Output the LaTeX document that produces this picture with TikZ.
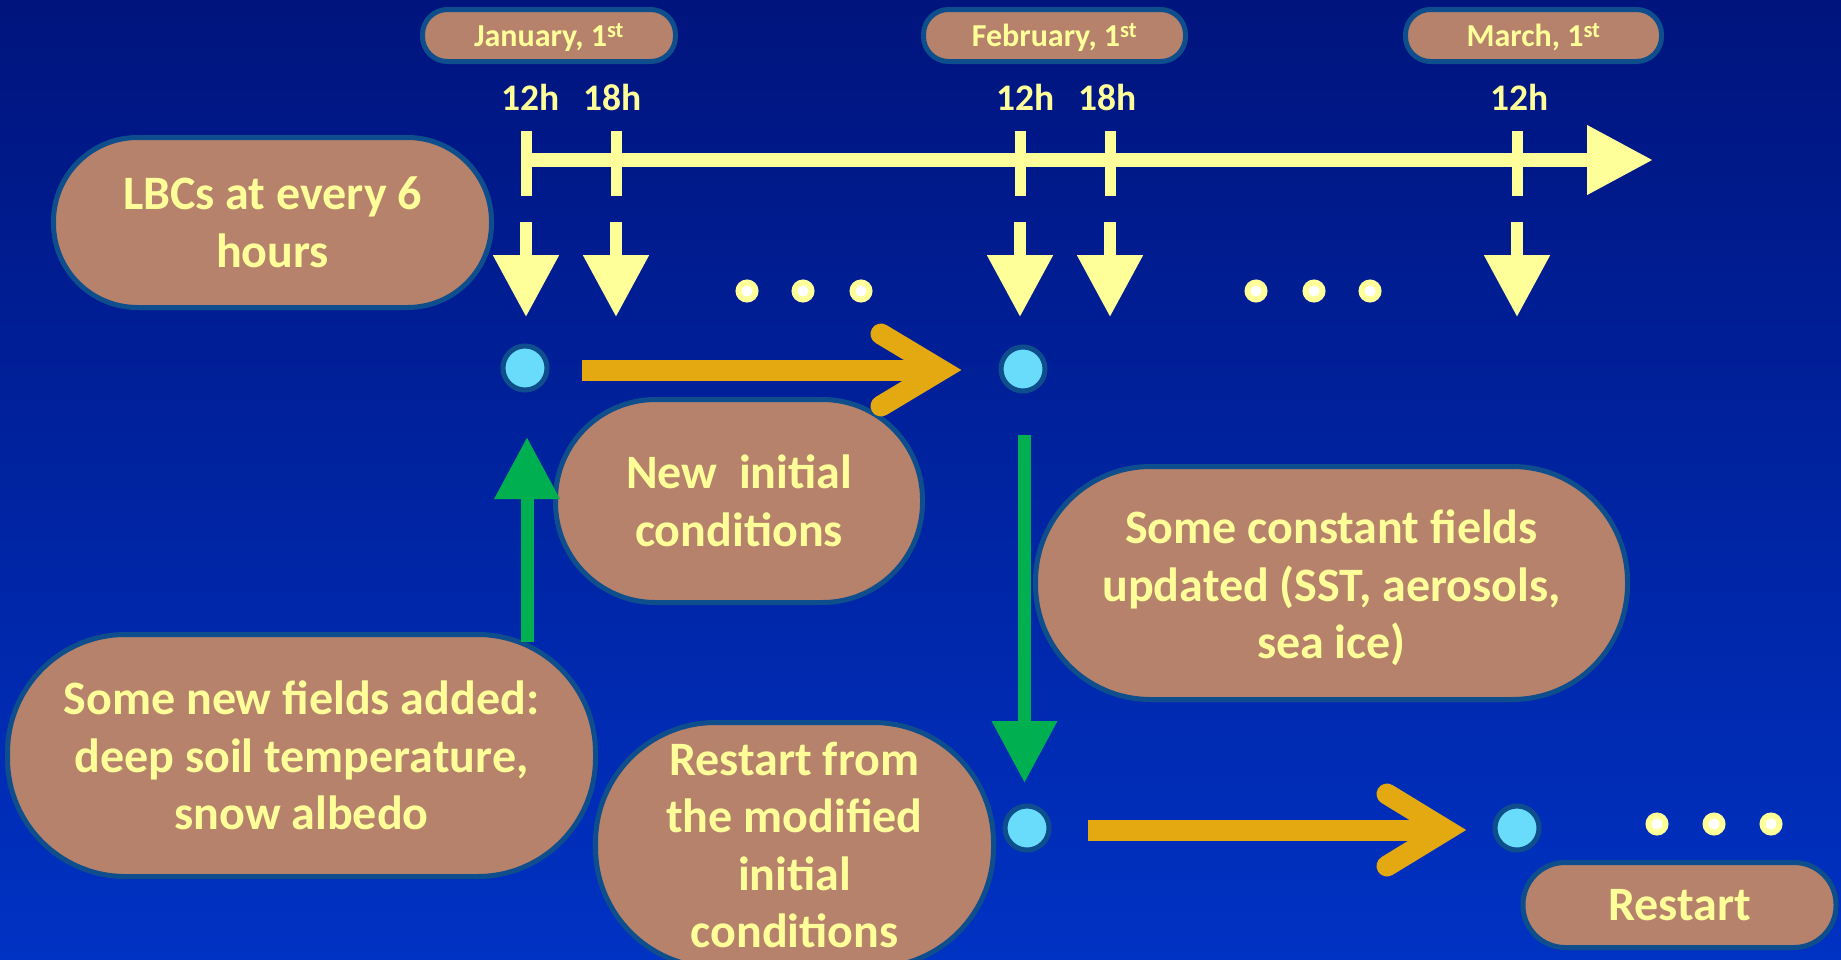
\documentclass[tikz,border=0pt]{standalone}
\usepackage{fontspec}
\setmainfont{Carlito}
\usetikzlibrary{arrows.meta}
\definecolor{bgtop}{RGB}{0,20,125}
\definecolor{bgbot}{RGB}{0,50,195}
\definecolor{pillfill}{RGB}{183,130,107}
\definecolor{pillline}{RGB}{14,78,140}
\definecolor{ltyellow}{RGB}{255,255,153}
\definecolor{cyanfill}{RGB}{104,220,250}
\definecolor{arrorange}{RGB}{228,168,16}
\definecolor{arrgreen}{RGB}{0,176,80}
\newcommand{\lowtext}[1]{\raisebox{-2pt}[\height][\depth]{#1}}
\begin{document}
\begin{tikzpicture}[x=1pt,y=-1pt,
  pilltext/.style={text=ltyellow, align=center, inner sep=0pt, font=\fontsize{48}{57.5}\selectfont\bfseries},
  pill/.style={pilltext, draw=pillline, fill=pillfill, line width=5pt},
  datepill/.style={pill, font=\fontsize{32}{36}\selectfont\bfseries, minimum height=52pt, rounded corners=25pt},
  hour/.style={text=ltyellow, font=\fontsize{37.5}{40}\selectfont\bfseries, anchor=base, inner sep=0pt},
  circ/.style={circle, draw=pillline, fill=cyanfill, line width=5pt, minimum size=44pt, inner sep=0pt},
  dot/.style={circle, fill=white, draw=ltyellow, line width=6pt, minimum size=17pt, inner sep=0pt},
  tickmark/.style={draw=ltyellow, line width=11pt},
  axis/.style={draw=ltyellow, line width=14pt, -{Triangle[length=66pt,width=66pt]}},
  yarr/.style={draw=ltyellow, line width=12pt, -{Triangle[length=62pt,width=63pt]}},
  garr/.style={draw=arrgreen, line width=13pt, -{Triangle[length=62pt,width=62pt]}},
  oshaft/.style={draw=arrorange, line width=21pt},
  ohead/.style={draw=arrorange, line width=21pt, line cap=round, line join=miter}
]
\useasboundingbox (0,0) rectangle (1841,959);
\fill[top color=bgtop, bottom color=bgbot] (0,0) rectangle (1841,959);

% date pills
\node[datepill, minimum width=253pt] (jan) at (549,35.5) {\lowtext{January, 1\textsuperscript{st}}};
\node[datepill, minimum width=262pt] (feb) at (1054.5,35.5) {\lowtext{February, 1\textsuperscript{st}}};
\node[datepill, minimum width=256pt] (mar) at (1533.5,35.5) {\lowtext{March, 1\textsuperscript{st}}};

% hour labels
\node[hour] (h1) at (531,110) {12h};
\node[hour] (h2) at (613,110) {18h};
\node[hour] (h3) at (1026,110) {12h};
\node[hour] (h4) at (1108,110) {18h};
\node[hour] (h5) at (1520,110) {12h};

% time axis
\coordinate (ax0) at (526,160);
\coordinate (ax1) at (1653,160);
\draw[axis] (ax0) -- (ax1);
\foreach \n/\x in {1/526,2/616,3/1020,4/1110,5/1517}{
  \coordinate (ta\n) at (\x,131);
  \coordinate (tb\n) at (\x,196);
  \draw[tickmark] (ta\n) -- (tb\n);
  \coordinate (da\n) at (\x,222);
  \coordinate (db\n) at (\x,317);
  \draw[yarr] (da\n) -- (db\n);
}

% dots
\node[dot] (d1) at (747,291) {};
\node[dot] (d2) at (803,291) {};
\node[dot] (d3) at (861,291) {};
\node[dot] (d4) at (1256,291) {};
\node[dot] (d5) at (1314,291) {};
\node[dot] (d6) at (1370,291) {};
\node[dot] (d7) at (1657,824) {};
\node[dot] (d8) at (1714,824) {};
\node[dot] (d9) at (1771,824) {};

% pills
\node[pill, minimum width=438pt, minimum height=170pt, rounded corners=84pt] (lbc) at (272.5,222.5) {LBCs at every 6\\hours};
\node[pill, minimum width=367pt, minimum height=203pt, rounded corners=100pt] (newic) at (739,501) {New\ \ initial\\conditions};
\node[pill, minimum width=592pt, minimum height=233pt, rounded corners=115pt] (const) at (1331.5,583) {};
\node[pilltext] (constT) at (1331.5,588) {Some constant fields\\updated (SST, aerosols,\\sea ice)};
\node[pill, minimum width=588pt, minimum height=242pt, rounded corners=118pt] (newf) at (301.5,755.5) {Some new fields added:\\deep soil temperature,\\snow albedo};
\node[pill, minimum width=398pt, minimum height=245pt, rounded corners=120pt] (rfrom) at (794.5,845) {Restart from\\the modified\\initial\\conditions};
\node[pill, minimum width=313pt, minimum height=85pt, rounded corners=42pt] (rst) at (1679.5,905) {Restart};

% circles
\node[circ] (c1) at (525,368) {};
\node[circ] (c2) at (1023,369) {};
\node[circ] (c3) at (1027,828) {};
\node[circ] (c4) at (1517,828) {};

% orange arrows
\coordinate (o1a) at (582,370);
\coordinate (o1v) at (941,370);
\coordinate (o1u) at (881,334);
\coordinate (o1l) at (881,406);
\draw[oshaft] (o1a) -- (o1v);
\draw[ohead] (o1u) -- (o1v) -- (o1l);
\coordinate (o2a) at (1088,830);
\coordinate (o2v) at (1446,830);
\coordinate (o2u) at (1387,794);
\coordinate (o2l) at (1387,866);
\draw[oshaft] (o2a) -- (o2v);
\draw[ohead] (o2u) -- (o2v) -- (o2l);

% green arrows
\coordinate (g1a) at (527,642);
\coordinate (g1b) at (527,437);
\draw[garr] (g1a) -- (g1b);
\coordinate (g2a) at (1024.5,435);
\coordinate (g2b) at (1024.5,783);
\draw[garr] (g2a) -- (g2b);
\end{tikzpicture}
\end{document}
